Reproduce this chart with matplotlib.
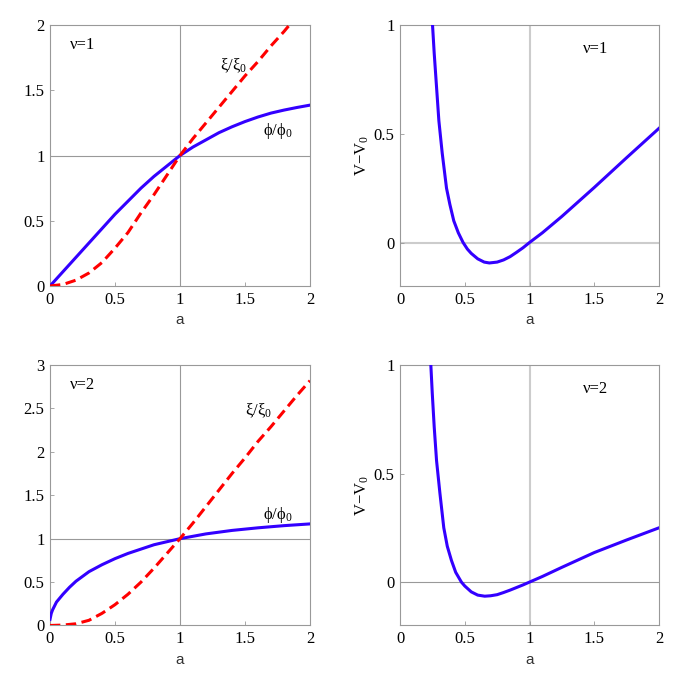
import matplotlib
matplotlib.use("Agg")
import matplotlib.pyplot as plt

plt.rcParams['font.family'] = ['Liberation Serif', 'DejaVu Serif']
plt.rcParams['mathtext.fontset'] = 'custom'
plt.rcParams['mathtext.rm'] = 'Liberation Serif'
plt.rcParams['mathtext.it'] = 'Liberation Serif:italic'

# nu = 1, field ratios
a_phi1 = [0, 0.1, 0.2, 0.3, 0.4, 0.5, 0.6, 0.7, 0.8, 0.9, 1.0, 1.1, 1.2, 1.3, 1.4,
          1.5, 1.6, 1.7, 1.8, 1.9, 2.0]
phi1 = [0, 0.11, 0.22, 0.33, 0.44, 0.55, 0.65, 0.75, 0.84, 0.92, 1.0, 1.065, 1.12,
        1.175, 1.22, 1.26, 1.295, 1.325, 1.348, 1.368, 1.386]
a_xi1 = [0, 0.1, 0.2, 0.3, 0.4, 0.5, 0.6, 0.7, 0.8, 0.9, 1.0, 1.1, 1.2, 1.3, 1.4,
         1.5, 1.6, 1.7, 1.8, 1.9]
xi1 = [0, 0.012, 0.045, 0.10, 0.18, 0.29, 0.41, 0.56, 0.70, 0.85, 1.0, 1.13, 1.25,
       1.37, 1.49, 1.61, 1.72, 1.84, 1.95, 2.07]

# nu = 2, field ratios
a_phi2 = [0, 0.01, 0.02, 0.03, 0.05, 0.1, 0.15, 0.2, 0.3, 0.4, 0.5, 0.6, 0.7, 0.8,
          0.9, 1.0, 1.2, 1.4, 1.6, 1.8, 2.0]
phi2 = [0.07, 0.14, 0.18, 0.21, 0.27, 0.36, 0.44, 0.51, 0.62, 0.70, 0.77, 0.83,
        0.88, 0.93, 0.965, 1.0, 1.055, 1.095, 1.125, 1.15, 1.17]
a_xi2 = [0, 0.1, 0.2, 0.3, 0.4, 0.5, 0.6, 0.7, 0.8, 0.9, 1.0, 1.1, 1.2, 1.3, 1.4,
         1.5, 1.6, 1.7, 1.8, 1.9, 2.0]
xi2 = [0, 0.005, 0.02, 0.06, 0.14, 0.24, 0.36, 0.50, 0.66, 0.83, 1.0, 1.18, 1.37,
       1.56, 1.75, 1.93, 2.12, 2.29, 2.47, 2.65, 2.82]

# potentials
a_V1 = [0.251, 0.264, 0.282, 0.30, 0.326, 0.359, 0.385, 0.415, 0.45, 0.487, 0.52,
        0.55, 0.6, 0.65, 0.69, 0.75, 0.8, 0.85, 0.9, 0.95, 1.0, 1.1, 1.25, 1.5,
        1.75, 2.0]
V1 = [1.0, 0.87, 0.715, 0.56, 0.41, 0.25, 0.175, 0.10, 0.045, 0.0, -0.03,
      -0.05, -0.075, -0.09, -0.094, -0.09, -0.08, -0.065, -0.045, -0.024, 0.0,
      0.045, 0.12, 0.253, 0.39, 0.525]
a_V2 = [0.238, 0.249, 0.264, 0.282, 0.308, 0.338, 0.365, 0.397, 0.43, 0.474, 0.5,
        0.55, 0.6, 0.654, 0.7, 0.75, 0.8, 0.85, 0.9, 0.95, 1.0, 1.1, 1.25, 1.5,
        1.75, 2.0]
V2 = [1.0, 0.87, 0.715, 0.56, 0.41, 0.25, 0.165, 0.10, 0.045, 0.0, -0.018,
      -0.045, -0.06, -0.065, -0.063, -0.058, -0.048, -0.037, -0.025, -0.013, 0.0,
      0.026, 0.068, 0.136, 0.194, 0.25]

x_ticks = [0, 0.5, 1, 1.5, 2]
x_labels = ['0', '0.5', '1', '1.5', '2']

BLUE = '#3300ff'
RED = '#ff0000'
FRAME = '#999999'
FS = 12

fig = plt.figure(figsize=(6.81, 6.81), dpi=100)

ax_tl = fig.add_axes([0.0734, 0.580, 0.3818, 0.3833])
ax_tr = fig.add_axes([0.5874, 0.580, 0.3803, 0.3833])
ax_bl = fig.add_axes([0.0734, 0.0815, 0.3818, 0.3825])
ax_br = fig.add_axes([0.5874, 0.0815, 0.3803, 0.3825])


def style(ax):
    for s in ax.spines.values():
        s.set_color(FRAME)
        s.set_linewidth(0.8)
    ax.tick_params(direction='in', length=3, width=0.6, color=FRAME,
                   labelsize=FS, pad=4)
    ax.set_xlim(0, 2)
    ax.set_xticks(x_ticks)
    ax.set_xticklabels(x_labels)
    ax.set_xlabel('a', family='Liberation Sans', fontsize=11, labelpad=4,
                  color='#333333')


# top left
ax = ax_tl
style(ax)
ax.axvline(1, color=FRAME, lw=0.8, zorder=1)
ax.axhline(1, color=FRAME, lw=0.8, zorder=1)
ax.plot(a_phi1, phi1, color=BLUE, lw=2.2, zorder=3)
ax.plot(a_xi1, xi1, color=RED, lw=2.2, ls=(0, (3.4, 1.8)), zorder=4)
ax.set_ylim(0, 2)
ax.set_yticks([0, 0.5, 1, 1.5, 2])
ax.set_yticklabels(['0', '0.5', '1', '1.5', '2'])
ax.text(0.15, 1.85, 'ν=1', fontsize=FS, ha='left', va='center')
ax.text(1.41, 1.69, 'ξ/ξ$_0$', fontsize=FS, ha='center', va='center')
ax.text(1.75, 1.19, 'ϕ/ϕ$_0$', fontsize=FS, ha='center', va='center')

# top right
ax = ax_tr
style(ax)
ax.axvline(1, color='#cccccc', lw=1.5, zorder=1)
ax.axhline(0, color='#cccccc', lw=1.5, zorder=1)
ax.plot(a_V1, V1, color=BLUE, lw=2.2, zorder=3)
ax.set_ylim(-0.2, 1)
ax.set_yticks([0, 0.5, 1])
ax.set_yticklabels(['0', '0.5', '1'])
ax.set_ylabel('V−V$_0$', fontsize=FS, labelpad=2)
ax.text(1.41, 0.89, 'ν=1', fontsize=FS, ha='left', va='center')

# bottom left
ax = ax_bl
style(ax)
ax.axvline(1, color=FRAME, lw=0.8, zorder=1)
ax.axhline(1, color=FRAME, lw=0.8, zorder=1)
ax.plot(a_phi2, phi2, color=BLUE, lw=2.2, zorder=3)
ax.plot(a_xi2, xi2, color=RED, lw=2.2, ls=(0, (3.4, 1.8)), zorder=4)
ax.set_ylim(0, 3)
ax.set_yticks([0, 0.5, 1, 1.5, 2, 2.5, 3])
ax.set_yticklabels(['0', '0.5', '1', '1.5', '2', '2.5', '3'])
ax.text(0.15, 2.77, 'ν=2', fontsize=FS, ha='left', va='center')
ax.text(1.6, 2.47, 'ξ/ξ$_0$', fontsize=FS, ha='center', va='center')
ax.text(1.75, 1.27, 'ϕ/ϕ$_0$', fontsize=FS, ha='center', va='center')

# bottom right
ax = ax_br
style(ax)
ax.axvline(1, color='#cccccc', lw=1.5, zorder=1)
ax.axhline(0, color=FRAME, lw=0.8, zorder=1)
ax.plot(a_V2, V2, color=BLUE, lw=2.2, zorder=3)
ax.set_ylim(-0.2, 1)
ax.set_yticks([0, 0.5, 1])
ax.set_yticklabels(['0', '0.5', '1'])
ax.set_ylabel('V−V$_0$', fontsize=FS, labelpad=2)
ax.text(1.41, 0.89, 'ν=2', fontsize=FS, ha='left', va='center')

fig.savefig('out.png', dpi=100)
